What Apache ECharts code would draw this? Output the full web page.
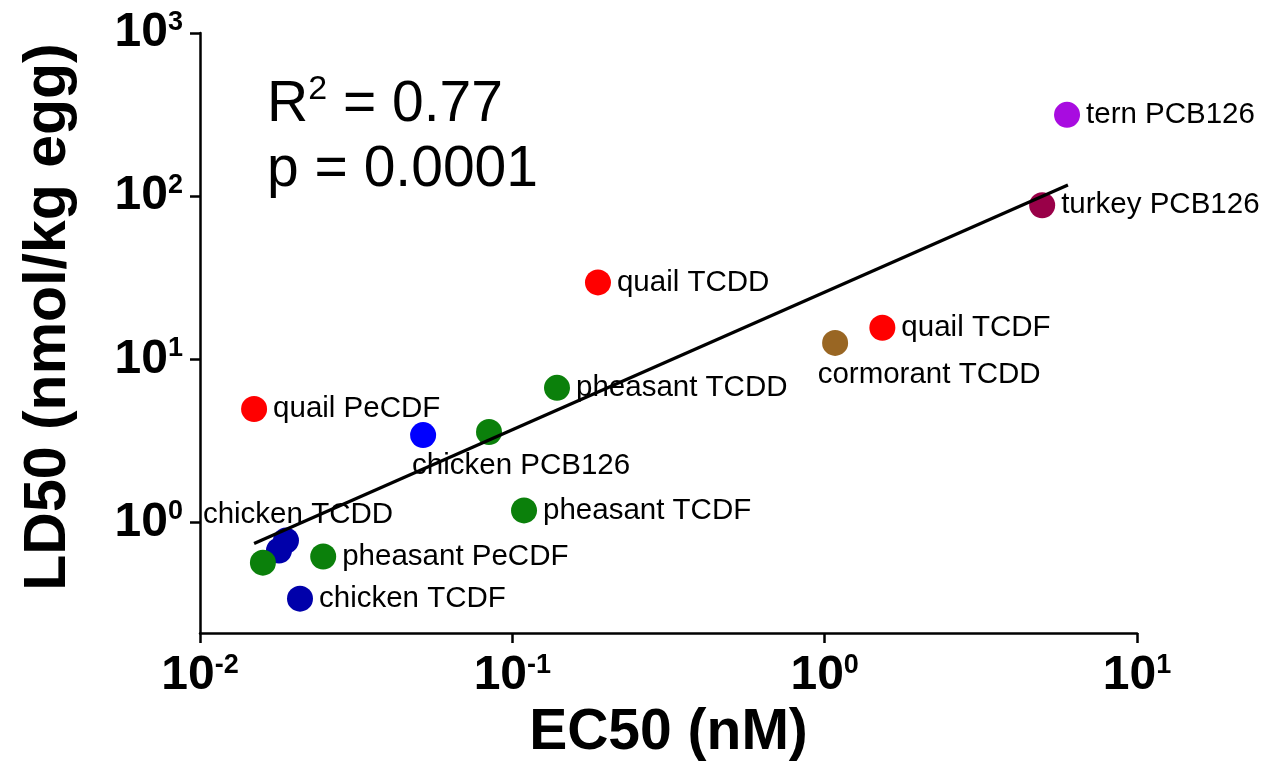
<!DOCTYPE html>
<html>
<head>
<meta charset="utf-8">
<script src="https://cdn.jsdelivr.net/npm/echarts@6/dist/echarts.min.js"></script>
<style>
html,body{margin:0;padding:0;background:#fff;}
#chart{width:1264px;height:763px;}
</style>
</head>
<body>
<div id="chart"></div>
<script>
// ---- data ----
const pointLabels = ['tern PCB126','turkey PCB126','quail TCDD','quail TCDF','cormorant TCDD','pheasant TCDD','quail PeCDF','chicken PCB126','','pheasant TCDF','','chicken TCDD','','pheasant PeCDF','chicken TCDF'];
const pointGroups = ['tern','turkey','quail','quail','cormorant','pheasant','quail','chickenPCB','pheasant','pheasant','chickenDark','chickenDark','pheasant','pheasant','chickenDark'];
const ec50 = [5.97, 4.97, 0.188, 1.53, 1.08, 0.139, 0.0149, 0.0518, 0.0842, 0.109, 0.0179, 0.01885, 0.0159, 0.0248, 0.0209];
const ld50 = [315, 88, 29.6, 15.6, 12.6, 6.68, 4.96, 3.43, 3.58, 1.185, 0.673, 0.775, 0.567, 0.618, 0.341];
const fitX = [0.0149, 6.01];
const fitY = [0.743, 117];
const xTicks = [0.01, 0.1, 1, 10];
const yTicks = [1, 10, 100, 1000];
const statsText = ['R', '2', ' = 0.77', 'p = 0.0001'];
const xName = 'EC50 (nM)';
const yName = 'LD50 (nmol/kg egg)';

// ---- styles ----
const FONT = 'Liberation Sans, Arial, sans-serif';
const groupColors = {
  tern: '#A80CE0', turkey: '#990048', quail: '#FF0000', cormorant: '#996623',
  pheasant: '#0B800B', chickenPCB: '#0000FF', chickenDark: '#0000AA'
};
const labelPlacement = {
  'cormorant TCDD': {position: 'inside', offset: [94, 32]},
  'chicken PCB126': {position: 'inside', offset: [98, 31]},
  'chicken TCDD': {position: 'inside', offset: [12, -26]}
};

function expLabel(v) {
  const l = Math.log10(v);
  const e = Math.round(l);
  if (Math.abs(l - e) > 1e-6) return '';
  return '{b|10}{s|' + e + '}';
}
const tickRich = {
  b: {fontSize: 48, fontWeight: 'bold', fontFamily: FONT, color: '#000', lineHeight: 48},
  s: {fontSize: 27, fontWeight: 'bold', fontFamily: FONT, color: '#000', lineHeight: 27, verticalAlign: 'top'}
};

const scatterData = ec50.map((x, i) => {
  const name = pointLabels[i];
  const place = labelPlacement[name] || {position: 'right', offset: [0, 0]};
  return {
    value: [x, ld50[i]],
    name: name,
    itemStyle: {color: groupColors[pointGroups[i]], opacity: 1},
    label: {
      show: name !== '',
      position: place.position,
      offset: place.offset,
      distance: 6,
      formatter: '{b}',
      fontSize: 29.5,
      fontFamily: FONT,
      color: '#000',
      opacity: 1
    }
  };
});

const chart = echarts.init(document.getElementById('chart'), null, {renderer: 'canvas'});
chart.setOption({
  backgroundColor: '#fff',
  animation: false,
  grid: {left: 200, right: 127, top: 33, bottom: 130, containLabel: false, outerBoundsMode: 'none'},
  xAxis: {
    type: 'log', logBase: 10, min: xTicks[0], max: xTicks[xTicks.length - 1],
    name: xName, nameLocation: 'middle', nameGap: 71,
    nameTextStyle: {fontSize: 57, fontWeight: 'bold', fontFamily: FONT, color: '#000'},
    axisLine: {lineStyle: {color: '#000', width: 2.5}},
    axisTick: {length: 10, lineStyle: {color: '#000', width: 2.5}},
    axisLabel: {margin: 19, formatter: expLabel, rich: tickRich},
    splitLine: {show: false},
    minorTick: {show: false}
  },
  yAxis: {
    type: 'log', logBase: 10, min: 0.21, max: yTicks[yTicks.length - 1],
    name: yName, nameLocation: 'middle', nameGap: 122, nameRotate: 90,
    nameTextStyle: {fontSize: 59, fontWeight: 'bold', fontFamily: FONT, color: '#000', padding: [0, 0, 0, 32]},
    axisLine: {lineStyle: {color: '#000', width: 2.5}},
    axisTick: {length: 10, lineStyle: {color: '#000', width: 2.5}, customValues: yTicks},
    axisLabel: {margin: 17, formatter: expLabel, rich: tickRich, customValues: yTicks},
    splitLine: {show: false},
    minorTick: {show: false}
  },
  graphic: [{
    type: 'text', left: 267, top: 73, z: 100,
    style: {
      text: '{n|' + statsText[0] + '}{s|' + statsText[1] + '}{n|' + statsText[2] + '}\n{n|' + statsText[3] + '}',
      rich: {
        n: {fontSize: 57, fontFamily: FONT, color: '#000', lineHeight: 65},
        s: {fontSize: 34, fontFamily: FONT, color: '#000', lineHeight: 34, verticalAlign: 'top'}
      }
    }
  }],
  series: [
    {
      type: 'scatter', symbol: 'circle', symbolSize: 26, z: 2,
      itemStyle: {opacity: 1},
      data: scatterData
    },
    {
      type: 'line', z: 3, symbol: 'none',
      data: fitX.map((x, i) => [x, fitY[i]]),
      lineStyle: {color: '#000', width: 3.2},
      silent: true
    }
  ]
});
</script>
</body>
</html>
